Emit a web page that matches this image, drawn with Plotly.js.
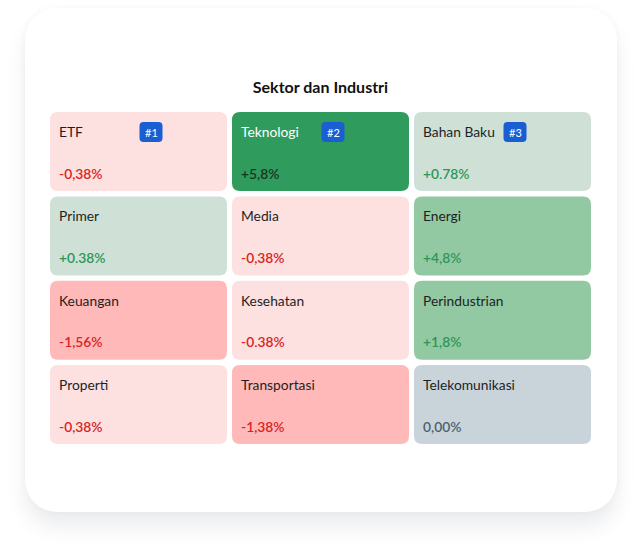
<!DOCTYPE html>
<html><head><meta charset="utf-8">
<script src="https://cdn.plot.ly/plotly-3.0.1.min.js"></script>
<style>
html,body{margin:0;padding:0;background:#fff;width:641px;height:552px;overflow:hidden;}
#card{position:absolute;left:25px;top:8px;width:592px;height:504px;border-radius:32px;background:#fff;
 box-shadow:0 15px 20px rgba(40,60,80,0.09),0 0 8px rgba(40,60,80,0.035);}
#chart{position:absolute;left:0;top:0;width:641px;height:552px;}
</style></head><body>
<div id="card"></div><div id="chart"></div>
<script>
// ---- data ----
const sectors = ["ETF","Teknologi","Bahan Baku","Primer","Media","Energi","Keuangan","Kesehatan","Perindustrian","Properti","Transportasi","Telekomunikasi"];
const changes = [-0.38, 5.8, 0.78, 0.38, -0.38, 4.8, -1.56, -0.38, 1.8, -0.38, -1.38, 0.00];
const changeLabels = ["-0,38%","+5,8%","+0.78%","+0.38%","-0,38%","+4,8%","-1,56%","-0.38%","+1,8%","-0,38%","-1,38%","0,00%"];
const ranks = ["#1","#2","#3",null,null,null,null,null,null,null,null,null];
const chartTitle = "Sektor dan Industri";

// ---- styles ----
function tileColor(v){
  if (v >= 5) return "#2f9b5d";
  if (v >= 1) return "#92c9a3";
  if (v > 0) return "#cfe1d6";
  if (v === 0) return "#c9d4da";
  if (v > -1) return "#fde0e0";
  return "#ffb9b9";
}
function valueColor(v){
  if (v >= 5) return "#17361f";
  if (v > 0) return "#2e9655";
  if (v === 0) return "#4a6270";
  return "#d82424";
}
function nameColor(v){ return v >= 5 ? "#ffffff" : "#1f1f1f"; }

const W = 641, H = 552;
const colStep = 182, col0 = 138.5;     // px
const rowStep = 84.3, row0 = 151.6;    // px
const tileW = 177, tileH = 79, rad = 8;
const nCols = 3;

const ux = 1/colStep, uy = 1/rowStep;   // px -> data units
function roundRect(x0, y0, x1, y1, rpx){
  const rx = rpx*ux, ry = rpx*uy;
  return `M ${x0+rx} ${y0} L ${x1-rx} ${y0} Q ${x1} ${y0} ${x1} ${y0+ry} ` +
         `L ${x1} ${y1-ry} Q ${x1} ${y1} ${x1-rx} ${y1} L ${x0+rx} ${y1} Q ${x0} ${y1} ${x0} ${y1-ry} ` +
         `L ${x0} ${y0+ry} Q ${x0} ${y0} ${x0+rx} ${y0} Z`;
}

const shapes = [], annotations = [];
const cx = [], cy = [];
sectors.forEach((name, i) => {
  const c = i % nCols, r = Math.floor(i / nCols);
  cx.push(c); cy.push(r);
  const left = c - tileW/2*ux, right = c + tileW/2*ux;
  const top = r - tileH/2*uy, bottom = r + tileH/2*uy;
  shapes.push({type:"path", xref:"x", yref:"y", path: roundRect(left, top, right, bottom, rad),
    fillcolor: tileColor(changes[i]), line:{width:0}, layer:"below"});
  annotations.push({x: left + 6.5*ux, y: top + 19.5*uy, xref:"x", yref:"y", text: name, showarrow:false,
    xanchor:"left", yanchor:"middle", font:{family:"Lato", size:13.8, color: nameColor(changes[i])}});
  annotations.push({x: left + 7*ux, y: top + 61*uy, xref:"x", yref:"y", text: changeLabels[i], showarrow:false,
    xanchor:"left", yanchor:"middle", font:{family:"Lato", size:13.8, weight:600, color: valueColor(changes[i])}});
  if (ranks[i]) {
    const bx0 = left + 89.5*ux, bx1 = left + 112.5*ux, by0 = top + 10*uy, by1 = top + 30*uy;
    shapes.push({type:"path", xref:"x", yref:"y", path: roundRect(bx0, by0, bx1, by1, 4),
      fillcolor:"#1a5ed3", line:{width:0}, layer:"above"});
    annotations.push({x:(bx0+bx1)/2, y:(by0+by1)/2, xref:"x", yref:"y", text: ranks[i], showarrow:false,
      xanchor:"center", yanchor:"middle", font:{family:"Lato", size:11, color:"#ffffff"}});
  }
});

const trace = {type:"scatter", mode:"markers", x: cx, y: cy, text: sectors.map((s,i)=>s+": "+changeLabels[i]),
  hoverinfo:"text", marker:{size:40, opacity:0}, showlegend:false};

const layout = {
  width: W, height: H, margin:{l:0,r:0,t:0,b:0},
  paper_bgcolor:"rgba(0,0,0,0)", plot_bgcolor:"rgba(0,0,0,0)",
  title:{text: chartTitle, x:0.5, xanchor:"center", y: 1 - 87/H, yanchor:"middle", yref:"paper",
    font:{family:"Lato", size:16, weight:"bold", color:"#111111"}},
  xaxis:{range:[-col0/colStep, (W-col0)/colStep], visible:false, fixedrange:true},
  yaxis:{range:[(H-row0)/rowStep, -row0/rowStep], visible:false, fixedrange:true},
  shapes, annotations, showlegend:false
};
Plotly.newPlot("chart", [trace], layout, {displayModeBar:false, staticPlot:true});
</script>
</body></html>
